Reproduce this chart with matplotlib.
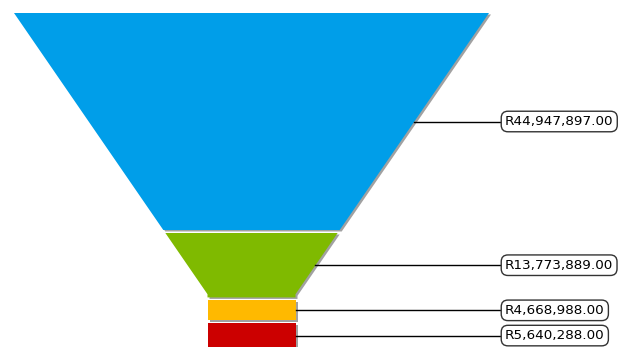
import matplotlib.pyplot as plt
from matplotlib.patches import Polygon

# datos del embudo
values = [44947897, 13773889, 4668988, 5640288]
labels = ['R44,947,897.00', 'R13,773,889.00', 'R4,668,988.00', 'R5,640,288.00']
colors = ['#009ee9', '#7fba00', '#ffb900', '#cc0000']

W, H = 631, 347
fig = plt.figure(figsize=(W / 100, H / 100), dpi=100)
ax = fig.add_axes([0, 0, 1, 1])
ax.set_xlim(0, W)
ax.set_ylim(H, 0)
ax.axis('off')

# geometria (pixeles)
top = 13
cx = 251.5
top_half = 237.5
neck_half = 44
slope = 0.688
scale = 220 / values[0]
gap = 3
box_x = 501


def half_width(y):
    return max(neck_half, top_half - (y - top) * slope)


def seg_poly(y0, y1):
    ybreak = top + (top_half - neck_half) / slope
    ys = [y0]
    if y0 < ybreak < y1:
        ys.append(ybreak)
    ys.append(y1)
    left = [(cx - half_width(y), y) for y in ys]
    right = [(cx + half_width(y), y) for y in reversed(ys)]
    return left + right


y = top
for v, lab, col in zip(values, labels, colors):
    y0 = y
    y1 = y + v * scale - gap
    pts = seg_poly(y0, y1)
    shadow = [(px + 2, py + 1.5) for px, py in pts]
    ax.add_patch(Polygon(shadow, closed=True, facecolor='#444444', alpha=0.5,
                         edgecolor='none', zorder=1))
    ax.add_patch(Polygon(pts, closed=True, facecolor=col, edgecolor='none', zorder=2))
    ym = (y0 + min(y1, H + 2)) / 2
    xr = cx + half_width(ym)
    ax.plot([xr, box_x], [ym, ym], color='black', lw=1, zorder=3)
    ax.text(box_x + 4, ym, lab, fontsize=9.7, va='center', ha='left', zorder=4,
            bbox=dict(boxstyle='round,pad=0.28,rounding_size=0.5', fc='white',
                      ec='#333333', lw=1))
    y = y + v * scale

fig.savefig('out.png', dpi=100)
